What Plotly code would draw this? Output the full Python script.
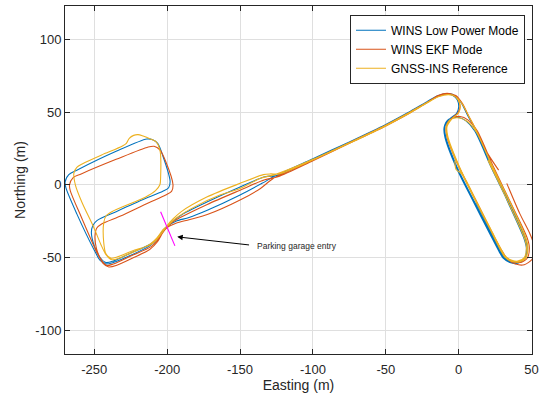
import plotly.graph_objects as go

# ---------------- data (metres) ----------------
blue_east = [27, 34, 45, 46.5, 45, 40.5, 35, 30.5, 28, 21.5, 10, -1.5, -9.5,
             -10, -7, -0.5, 5, 11, 22.5, 34, 45.5, 47, 45.5, 41, 35.5, 31,
             28.5, 22, 10.5, -1, -9,
             -9.5, -6, -1.5, 0, -1, -4, -8,
             -14, -22, -35, -50, -75, -100, -124, -133, -150, -172, -189, -196, -200,
             -203.5, -207, -211, -225, -237, -242, -246, -250, -252, -251, -248, -235, -215, -203,
             -199, -198, -203, -206.5, -210, -214, -235, -262, -267.5, -270, -269.5, -262, -250,
             -246, -242, -237, -225, -212, -207, -203, -200,
             -194, -185, -172.5, -150, -135, -126, -100, -75, -50, -35, -22, -14, -7,
             -2, 2, 6, 11.5, 23, 34.5, 45.5, 47, 45.5, 41, 36, 31.5, 29, 22.5, 12]
blue_north = [3.5, -12.5, -37.5, -44, -51, -54, -53.5, -50.5, -46.5, -34, -11.5, 11.5, 33,
              39.5, 45, 46.5, 44, 37, 11.5, -12, -37, -43.5, -50.5, -53.5, -53, -50,
              -46, -33.5, -11, 12, 33.5,
              40, 45.5, 49, 53.5, 58.5, 61.5, 62.5,
              61, 56.5, 49, 41, 29, 17.5, 6.5, 5.5, -1.5, -11.5, -20, -25, -28.5,
              -32.5, -37, -40.5, -47, -52.5, -53.5, -50, -42, -33, -28, -24.5, -18.5, -9.5, -4.5,
              -2, 2.5, 20, 28.5, 31, 31.5, 23, 10, 7, 2, -2, -20, -45,
              -52, -54.5, -53.5, -48.5, -42, -37.5, -31.5, -28.5,
              -25, -22.5, -17.5, -7, 1, 6, 18, 29.5, 41.5, 49.5, 57, 61.5, 62.8,
              61, 56, 48, 38, 12.5, -12, -36.5, -43, -50, -53, -52.5, -49.5, -45.5, -33, -12]

red_east = [33, 42, 49, 52, 50.5, 45, 39, 33.5, 30, 23, 11.5, 0, -8,
            -8.5, -5, 1, 6.5, 12.5, 24, 35.5, 47, 48.5, 47, 42, 36.5, 32,
            29.5, 23, 11.5, 0, -8,
            -8.5, -5, -0.5, 1, -0.5, -3.5, -8,
            -14, -22, -35, -50, -75, -100, -124, -133, -150, -172.5, -190, -196, -200,
            -203.5, -207, -211, -225, -237, -241.5, -245, -248.5, -249.5, -248.5, -245, -232, -213, -201,
            -197, -196, -201, -205, -209, -213, -235, -259, -264.5, -267, -266.5, -259, -248,
            -244, -240, -235, -224, -212, -206.5, -203, -200,
            -194, -185, -172.5, -150, -136, -127, -100, -75, -50, -35, -22, -14, -7,
            -2, 2.5, 7, 11.5, 19, 27.4]
red_north = [1, -20, -34, -43, -51, -55, -54.5, -51, -46, -33, -10, 13, 33.5,
             40.5, 45.5, 47, 44.5, 37.5, 12, -12, -36.5, -43.5, -50.5, -53.5, -52.5, -49.5,
             -45.5, -33, -10.5, 12.5, 33,
             40, 45.5, 49.5, 54, 59, 62, 63,
             61.5, 56.5, 48.5, 40.5, 28.5, 16.5, 5.5, 3.5, -3.7, -13.5, -22, -25.5, -29,
             -33.5, -38.5, -42.5, -49, -54.5, -55.5, -52, -44, -35, -30, -27, -21.5, -12.5, -7,
             -4.5, 0, 16, 24, 26.5, 26, 17.5, 7.5, 5, 0, -4, -22, -47,
             -54, -56.5, -55.5, -50.5, -44.5, -39, -33, -29.5,
             -26.5, -24, -20.5, -10.5, -2.5, 4.5, 17, 29, 41, 49, 56.5, 61, 62.5,
             61.5, 56, 47, 38.7, 23, 10.1]

yellow_east = [20, 34, 45, 46.5, 45, 40.5, 35.5, 31.5, 29, 22.5, 11, 0, -8,
               -8.5, -5.5, 0.5, 6, 12, 23.5, 35, 46, 47.5, 46, 41.5, 36.5, 32,
               29.5, 23, 11.5, 0.5, -7.5,
               -8, -4.5, 0, 1, -0.5, -3.5, -8,
               -14, -22, -35, -50, -75, -100, -123, -129, -134, -150, -172.5, -190.5, -196, -200,
               -203.5, -207.5, -212, -224, -234, -238.5, -242, -243.5, -243.5, -242, -238, -215, -208,
               -205, -204.5, -205, -207.5, -211.5, -216.5, -220, -223, -226, -228, -231, -245, -258,
               -262, -264, -263, -258.5, -250.5, -245.5, -242, -238, -233, -224, -212, -207, -203, -200,
               -194, -180, -165, -150, -136, -126, -100, -75, -50, -35, -22, -14, -7,
               -2, 2.5, 7, 12, 23.5, 35, 46, 47.5, 46, 41.5, 36, 31.5,
               29, 22.5, 11.5, 4, 1.5, -1.8, -2.6]
yellow_north = [17, -12, -36.5, -43, -50, -52.5, -52, -49, -45, -32.5, -10, 12.5, 33.5,
                40, 45, 46, 43.5, 36.5, 11.5, -11.5, -36, -43, -50, -52.5, -52, -49,
                -45, -32.5, -10, 12.5, 33.5,
                40, 45.5, 49.5, 54, 58.5, 61.5, 62,
                60.5, 56, 48.5, 40.5, 28.5, 17, 7.5, 7.5, 7, 1, -8.3, -18.6, -23.5, -28,
                -33, -38, -41.5, -45.5, -49.5, -50.5, -47.5, -40, -26, -21.5, -18.5, -8.5, -4,
                0, 5, 24, 29.5, 31.5, 33.5, 34.5, 34, 32, 28.5, 26.5, 20.5, 14.5,
                12, 8, 0, -12, -29, -41, -48, -51.5, -50.5, -46.5, -41, -36.5, -31, -28.5,
                -23, -14.5, -7.5, -2.5, 4.5, 7, 17.5, 29, 41, 49, 56.5, 60.5, 62,
                60.5, 55.5, 47, 37.5, 12, -11.5, -36.5, -43.5, -50.5, -53, -52.5, -49.5,
                -45.5, -32.5, -10, 5, 8, 10.5, 16.5]

entry_east = [-204.5, -194.7]
entry_north = [-18.6, -42.0]

arrow_head = (-193.1, -35.8)
arrow_tail = (-142.8, -41.5)
label_pos = (-140.0, -42.2)

series_names = ["WINS Low Power Mode", "WINS EKF Mode", "GNSS-INS Reference"]
series_colors = ["#0072BD", "#D95319", "#EDB120"]

x_ticks = [-250, -200, -150, -100, -50, 0, 50]
x_tick_text = ["-250", "-200", "-150", "-100", "-50", "0", "50"]
y_ticks = [-100, -50, 0, 50, 100]
y_tick_text = ["-100", "-50", "0", "50", "100"]

# ---------------- figure ----------------
fig = go.Figure()
for name, col, xs, ys in zip(series_names, series_colors,
                             [blue_east, red_east, yellow_east],
                             [blue_north, red_north, yellow_north]):
    fig.add_trace(go.Scatter(x=xs, y=ys, mode="lines", name=name,
                             line=dict(color=col, width=1.1, shape="spline", smoothing=0.8)))

fig.add_trace(go.Scatter(x=entry_east, y=entry_north, mode="lines", showlegend=False,
                         line=dict(color="#FF00FF", width=1.1)))

fig.add_annotation(x=arrow_head[0], y=arrow_head[1], ax=arrow_tail[0], ay=arrow_tail[1],
                   xref="x", yref="y", axref="x", ayref="y", text="", showarrow=True,
                   arrowhead=2, arrowsize=1.1, arrowwidth=1, arrowcolor="black")
fig.add_annotation(x=label_pos[0], y=label_pos[1], xref="x", yref="y", text="Parking garage entry",
                   showarrow=False, xanchor="left", yanchor="middle",
                   font=dict(family="Liberation Sans, Arial", size=8.5, color="#262626"))

axis_common = dict(showgrid=True, gridcolor="#DFDFDF", gridwidth=1, zeroline=False,
                   showline=True, linecolor="#262626", linewidth=1, mirror="ticks",
                   ticks="inside", ticklen=5, tickwidth=1, tickcolor="#262626",
                   automargin=False,
                   tickfont=dict(family="Liberation Sans, Arial", size=13, color="#262626"))

fig.update_xaxes(range=[-270.1, 50.3], tickvals=x_ticks, ticktext=x_tick_text,
                 ticklabelstandoff=3,
                 title=dict(text="Easting (m)", standoff=4,
                            font=dict(family="Liberation Sans, Arial", size=14, color="#262626")),
                 **axis_common)
fig.update_yaxes(range=[-116.4, 123.0], tickvals=y_ticks, ticktext=y_tick_text,
                 title=dict(text="Northing (m)", standoff=6,
                            font=dict(family="Liberation Sans, Arial", size=14, color="#262626")),
                 **axis_common)

fig.update_layout(width=540, height=401, margin=dict(l=65, r=8, t=6, b=47),
                  paper_bgcolor="white", plot_bgcolor="white", hovermode=False,
                  legend=dict(x=0.985, y=0.975, xanchor="right", yanchor="top",
                              bgcolor="white", bordercolor="#262626", borderwidth=1,
                              font=dict(family="Liberation Sans, Arial", size=12, color="black"),
                              tracegroupgap=0))

fig.write_html("out.html", config={"displayModeBar": False},
               post_script="document.body.style.margin='0';")
